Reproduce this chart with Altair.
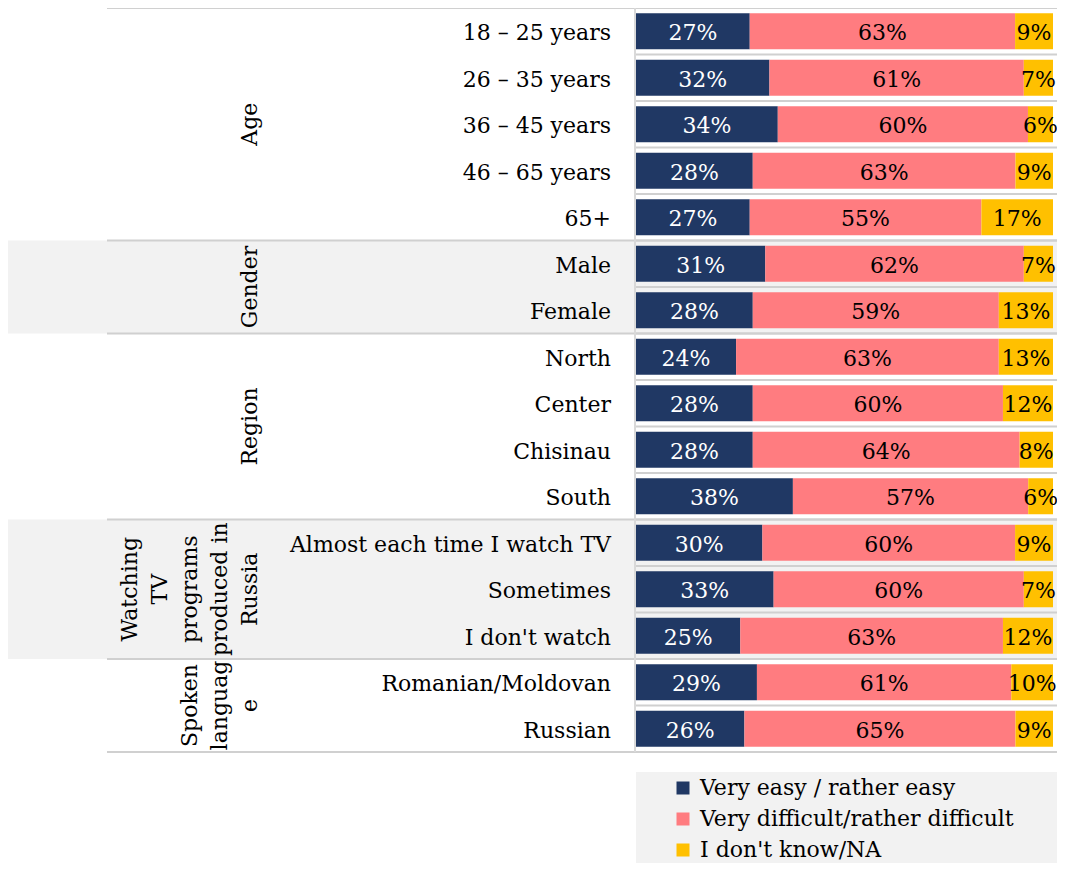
import altair as alt
import pandas as pd

# ---------------- data ----------------
rows = ["18 – 25 years", "26 – 35 years", "36 – 45 years", "46 – 65 years", "65+",
        "Male", "Female",
        "North", "Center", "Chisinau", "South",
        "Almost each time I watch TV", "Sometimes", "I don't watch",
        "Romanian/Moldovan", "Russian"]
group_lines = [["Age"], ["Gender"], ["Region"],
               ["Watching", "TV", "programs", "produced in", "Russia"],
               ["Spoken", "languag", "e"]]
group_sizes = [5, 2, 4, 3, 2]
series = ["Very easy / rather easy", "Very difficult/rather difficult", "I don't know/NA"]
easy = [27, 32, 34, 28, 27, 31, 28, 24, 28, 28, 38, 30, 33, 25, 29, 26]
difficult = [63, 61, 60, 63, 55, 62, 59, 63, 60, 64, 57, 60, 60, 63, 61, 65]
dont_know = [9, 7, 6, 9, 17, 7, 13, 13, 12, 8, 6, 9, 7, 12, 10, 9]
colors = ["#203864", "#FF7C80", "#FFC000"]

# ---------------- layout / style ----------------
W, H = 1049, 855
ROW_PX = 46.5
BAR_HALF = 18 / ROW_PX
BAR_L, BAR_R = 628, 1045
FONT = "DejaVu Serif"
FS = 22
GRID = "#D0D0D0"
BAND = "#F2F2F2"
GLABEL_X = 254
GLINE = 30

xscale = alt.Scale(domain=[-BAR_L / (BAR_R - BAR_L), (W - BAR_L) / (BAR_R - BAR_L)],
                   nice=False, zero=False)
yscale = alt.Scale(domain=[0, H / ROW_PX], reverse=True, nice=False, zero=False)

recs = []
for i, r in enumerate(rows):
    for k, vals in enumerate([easy, difficult, dont_know]):
        recs.append({"row": r, "idx": i, "series": series[k], "order": k, "value": vals[i]})
df = pd.DataFrame(recs)

row_df = pd.DataFrame({"row": rows, "idx": list(range(len(rows)))})

grecs = []
start = 0
for g, (lines, n) in enumerate(zip(group_lines, group_sizes)):
    grecs.append({"lines": lines, "start": start, "end": start + n, "shaded": g % 2 == 1})
    start += n
gdata = alt.Data(values=grecs)

gb = [g["start"] for g in grecs] + [len(rows)]

# ---------------- layers ----------------
bands = alt.Chart(gdata).transform_filter("datum.shaded").mark_rect(color=BAND).encode(
    x=alt.value(0), x2=alt.value(W),
    y=alt.Y("start:Q", scale=yscale, axis=None), y2="end:Q")

legend_bg = alt.Chart(pd.DataFrame({"a": [0]})).mark_rect(color=BAND).encode(
    x=alt.value(628), x2=alt.value(W), y=alt.value(764), y2=alt.value(H))

row_rules = alt.Chart(pd.DataFrame({"b": list(range(len(rows) + 1))})).mark_rule(
    color=GRID, strokeWidth=2).encode(
    x=alt.value(626), x2=alt.value(W), y=alt.Y("b:Q", scale=yscale, axis=None))

group_rules = alt.Chart(pd.DataFrame({"b": gb})).mark_rule(
    color=GRID, strokeWidth=2).encode(
    x=alt.value(99), x2=alt.value(W), y=alt.Y("b:Q", scale=yscale, axis=None))

vline = alt.Chart(pd.DataFrame({"a": [0], "b": [len(rows)]})).mark_rule(
    color="#D9D9D9", strokeWidth=2).encode(
    x=alt.value(627), y=alt.Y("a:Q", scale=yscale, axis=None), y2="b:Q")

base = alt.Chart(df).transform_stack(
    stack="value", groupby=["idx"], sort=[alt.SortField("order")],
    as_=["x0", "x1"], offset="normalize"
).transform_calculate(
    yc="datum.idx + 0.5",
    ya=f"datum.idx + 0.5 - {BAR_HALF}",
    yb=f"datum.idx + 0.5 + {BAR_HALF}",
    xm="(datum.x0 + datum.x1) / 2",
    label="datum.value + '%'"
)

bars = base.mark_rect().encode(
    x=alt.X("x0:Q", scale=xscale, axis=None), x2="x1:Q",
    y=alt.Y("ya:Q", scale=yscale, axis=None), y2="yb:Q",
    color=alt.Color("series:N", scale=alt.Scale(domain=series, range=colors),
                    legend=alt.Legend(orient="none", legendX=664, legendY=769, title=None,
                                      symbolType="square", symbolSize=169,
                                      symbolStrokeWidth=0, labelFont=FONT,
                                      labelFontSize=FS, labelColor="black",
                                      rowPadding=9, labelOffset=6, labelLimit=0,
                                      padding=0, direction="vertical")))

labels = base.mark_text(font=FONT, fontSize=FS, baseline="middle", align="center",
                        dy=2).encode(
    x=alt.X("xm:Q", scale=xscale, axis=None),
    y=alt.Y("yc:Q", scale=yscale, axis=None),
    text="label:N",
    color=alt.condition(alt.datum.order == 0, alt.value("white"), alt.value("black")))

row_labels = alt.Chart(row_df).transform_calculate(yc="datum.idx + 0.5").mark_text(
    font=FONT, fontSize=FS, align="right", baseline="middle", color="black",
    dy=2).encode(
    x=alt.value(603), y=alt.Y("yc:Q", scale=yscale, axis=None), text="row:N")

group_labels = alt.Chart(gdata).transform_calculate(
    gc="(datum.start + datum.end) / 2",
    gx=f"{GLABEL_X} - (length(datum.lines) - 1) * {GLINE}").mark_text(
    font=FONT, fontSize=FS, angle=270, align="center", baseline="bottom",
    lineHeight=GLINE, color="black").encode(
    x=alt.X("gx:Q", scale=None, axis=None),
    y=alt.Y("gc:Q", scale=yscale, axis=None), text="lines:N")

chart = alt.layer(bands, legend_bg, row_rules, group_rules, vline, bars, labels,
                  row_labels, group_labels).properties(
    width=W, height=H, padding=0, autosize="none", background="white"
).configure_view(stroke=None)

chart.save("out.html", embed_options={"renderer": "svg", "actions": False})
